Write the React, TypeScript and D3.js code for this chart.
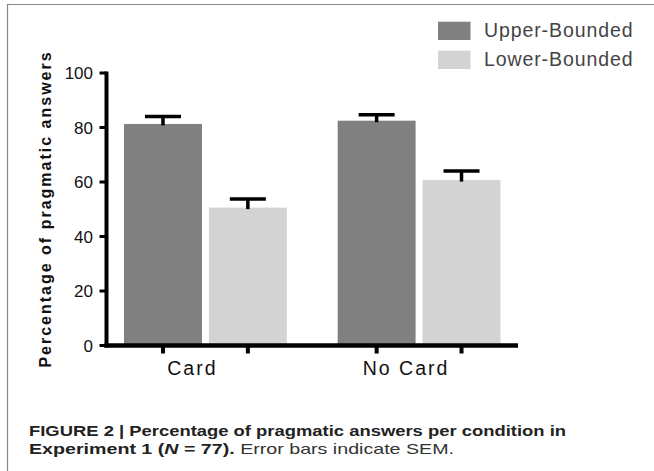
import * as d3 from 'd3';

const categories = ['Card', 'No Card'];
const seriesNames = ['Upper-Bounded', 'Lower-Bounded'];
const upperMeans = [81.3, 82.5];
const upperSem = [2.7, 2.2];
const lowerMeans = [50.6, 60.7];
const lowerSem = [3.2, 3.3];
const yTicks = [0, 20, 40, 60, 80, 100];

const colors = ['#808080', '#d3d3d3'];
const font = '"Liberation Sans", Arial, sans-serif';

const App = () => {
	const width = 654;
	const height = 471;
	const axisX = 106.5;
	const axisRight = 518;

	const y = d3.scaleLinear().domain([0, 100]).range([345.5, 73]);
	const x0 = d3
		.scaleBand<string>()
		.domain(categories)
		.range([axisX, axisRight])
		.paddingInner(0.238)
		.paddingOuter(0.082);
	const x1 = d3
		.scaleBand<string>()
		.domain(seriesNames)
		.range([0, x0.bandwidth()])
		.paddingInner(0.082);

	const means = [upperMeans, lowerMeans];
	const sems = [upperSem, lowerSem];

	const bars = categories.flatMap((c, ci) =>
		seriesNames.map((s, si) => ({
			key: `${c}-${s}`,
			x: (x0(c) ?? 0) + (x1(s) ?? 0),
			w: x1.bandwidth(),
			mean: means[si][ci],
			sem: sems[si][ci],
			color: colors[si],
		}))
	);

	return (
		<svg
			width={width}
			height={height}
			style={{ position: 'absolute', left: 0, top: 0, background: '#fff' }}
		>
			{/* frame */}
			<line x1={7} x2={width} y1={4.5} y2={4.5} stroke='#888' strokeWidth={1.2} />
			<line x1={7.5} x2={7.5} y1={4} y2={height} stroke='#888' strokeWidth={1.2} />

			{/* bars */}
			{bars.map((b) => (
				<rect
					key={b.key}
					x={b.x}
					y={y(b.mean)}
					width={b.w}
					height={y(0) - y(b.mean)}
					fill={b.color}
				/>
			))}

			{/* error bars */}
			{bars.map((b) => {
				const cx = b.x + b.w / 2;
				return (
					<g key={`e-${b.key}`} stroke='#000' strokeWidth={3.5}>
						<line x1={cx} x2={cx} y1={y(b.mean) + 1.5} y2={y(b.mean + b.sem)} />
						<line x1={cx - 18} x2={cx + 18} y1={y(b.mean + b.sem)} y2={y(b.mean + b.sem)} />
					</g>
				);
			})}

			{/* y axis */}
			<line x1={axisX} x2={axisX} y1={y(100) - 1.5} y2={y(0) + 2} stroke='#000' strokeWidth={4} />
			{yTicks.map((t) => (
				<g key={t}>
					<line x1={axisX - 7} x2={axisX} y1={y(t)} y2={y(t)} stroke='#000' strokeWidth={3} />
					<text
						x={93}
						y={y(t)}
						dy='0.36em'
						textAnchor='end'
						fontFamily={font}
						fontSize={17}
						fill='#111'
					>
						{t}
					</text>
				</g>
			))}

			{/* x axis */}
			<line x1={axisX - 2} x2={axisRight} y1={y(0)} y2={y(0)} stroke='#000' strokeWidth={4.5} />
			{bars.map((b) => (
				<line
					key={`t-${b.key}`}
					x1={b.x + b.w / 2}
					x2={b.x + b.w / 2}
					y1={y(0)}
					y2={y(0) + 8}
					stroke='#000'
					strokeWidth={4}
				/>
			))}
			{categories.map((c) => (
				<text
					key={c}
					x={(x0(c) ?? 0) + x0.bandwidth() / 2 - 13}
					y={375}
					textAnchor='middle'
					fontFamily={font}
					fontSize={19.5}
					letterSpacing={2}
					fill='#111'
				>
					{c}
				</text>
			))}

			{/* y axis title */}
			<text
				transform={`translate(51, 209) rotate(-90)`}
				textAnchor='middle'
				fontFamily={font}
				fontSize={16}
				fontWeight='bold'
				letterSpacing={2}
				fill='#111'
			>
				Percentage of pragmatic answers
			</text>

			{/* legend */}
			{seriesNames.map((s, i) => (
				<g key={s} transform={`translate(438, ${21.7 + i * 29})`}>
					<rect width={32.5} height={18.3} fill={colors[i]} />
					<text
						x={46}
						y={15}
						fontFamily={font}
						fontSize={19.5}
						letterSpacing={0.9}
						fill='#444'
					>
						{s}
					</text>
				</g>
			))}

			{/* caption */}
			<text
				x={29}
				y={436}
				fontFamily={font}
				fontSize={15}
				fontWeight='bold'
				fill='#222'
				textLength={537}
				lengthAdjust='spacingAndGlyphs'
			>
				FIGURE 2 | Percentage of pragmatic answers per condition in
			</text>
			<text
				x={29}
				y={454}
				fontFamily={font}
				fontSize={15}
				fill='#333'
				textLength={425}
				lengthAdjust='spacingAndGlyphs'
			>
				<tspan fontWeight='bold' fill='#222'>
					Experiment 1 (<tspan fontStyle='italic'>N</tspan> = 77).
				</tspan>
				<tspan> Error bars indicate SEM.</tspan>
			</text>
		</svg>
	);
};

export default App;
